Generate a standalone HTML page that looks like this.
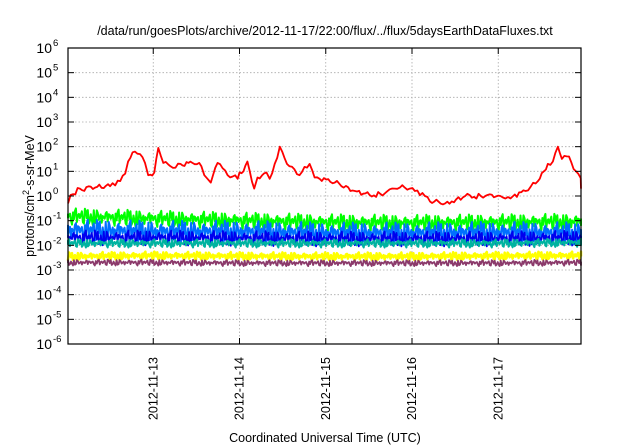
<!DOCTYPE html>
<html><head><meta charset="utf-8"><style>
html,body{margin:0;padding:0;background:#fff;}
svg{display:block;font-family:"Liberation Sans",sans-serif;}
</style></head><body>
<svg id="chart" width="640" height="448" viewBox="0 0 640 448">
<text x="325" y="35" text-anchor="middle" font-size="12.5" fill="#000">/data/run/goesPlots/archive/2012-11-17/22:00/flux/../flux/5daysEarthDataFluxes.txt</text>
<text x="325" y="442" text-anchor="middle" font-size="12.5" fill="#000">Coordinated Universal Time (UTC)</text>
<text transform="translate(34,196) rotate(-90)" text-anchor="middle" font-size="12.5" fill="#000">protons/cm<tspan dy="-5" font-size="9">2</tspan><tspan dy="5">-s-sr-MeV</tspan></text>
<g id="grid"></g>
<g id="series"></g>
<g id="axes"></g>
</svg>
<script>
const dayLabels = ["2012-11-13","2012-11-14","2012-11-15","2012-11-16","2012-11-17"];
const dayHours = [24,48,72,96,120];
const yExponents = [-6,-5,-4,-3,-2,-1,0,1,2,3,4,5,6];
const redHours = [0.3,1,3.6,7.8,12,14.8,16.2,17,18.9,20.3,21.7,22.6,24.3,25.4,26.8,28.8,30.2,31.6,33.8,34.9,37.4,38.2,39.1,40,41.9,44.7,47.5,48,49.1,50.2,52.1,53,55.5,56.4,57.8,59.2,61.9,64.7,67.5,68.9,70.3,74.5,80.1,84.2,88.4,91.2,94,96.8,99.6,101,105.2,110.8,116.4,120.6,123.4,127.6,130.4,132.7,133.8,135.2,136.6,137.7,139.7,141.6,143.6];
const redValues = [0.5,1.1,2,2.2,2.5,4,8,25,63,50,22,7,9,89,22,16,14,20,22,22,16,7,5,3.5,22,7,5,9,10,25,2,5.6,9,5,20,100,16,7,20,5.6,5,3.5,1.6,1.1,1.26,2,2.2,1.6,1,0.6,0.5,1,1,1,0.8,1.6,3.2,10,20,25,100,32,40,10,5,2];
const bandHours = [0,24,48,72,96,120,144];
const greenLevels = [0.15,0.12,0.1,0.085,0.08,0.085,0.09];
const lightBlueLevels = [0.04,0.035,0.035,0.03,0.03,0.032,0.03];
const darkBlueLevels = [0.02,0.02,0.019,0.018,0.018,0.018,0.02];
const tealLevels = [0.012,0.012,0.012,0.012,0.012,0.012,0.013];
const yellowLevels = [0.0035,0.0038,0.0036,0.0035,0.0035,0.0037,0.0038];
const purpleLevels = [0.002,0.002,0.0019,0.0019,0.0019,0.0019,0.002];
const jitter = [0.1,-0.15,0.2,-0.05,0.25,-0.2,0.05,0.15,-0.25,0.1,-0.1,0.3,-0.15,0.0,0.2,-0.3,0.1,-0.05,0.15,-0.2,0.25,-0.1,0.05,-0.25,0.2,0.0,-0.15,0.3,-0.05,0.1,-0.2,0.15,-0.1,0.05,0.2,-0.3,0.1,-0.15,0.25,-0.05,0.12,-0.22,0.08];

const L=68,R=581,T=48,B=344;
const X0=67, PXH=86.25/24;
function xs(h){return Math.min(R,Math.max(L,X0+h*PXH));}
function ys(v){return T+(6-Math.log10(v))*(B-T)/12;}
const NS="http://www.w3.org/2000/svg";
function mk(tag,attrs,parent){const e=document.createElementNS(NS,tag);for(const k in attrs)e.setAttribute(k,attrs[k]);parent.appendChild(e);return e;}
const grid=document.getElementById('grid'),axes=document.getElementById('axes'),series=document.getElementById('series');

yExponents.forEach(function(p){
  const y=ys(Math.pow(10,p));
  if(p>-6&&p<6){const g=mk('line',{x1:L,x2:R,y1:y,y2:y,stroke:'#aaa','stroke-width':0.8,'stroke-dasharray':'1.5,2'},grid);
  
  }
  const tk=mk('line',{x1:L,x2:L+6,y1:y,y2:y,stroke:'#000'},axes);
  
  
  const tk2=mk('line',{x1:R-6,x2:R,y1:y,y2:y,stroke:'#000'},axes);
  
  
  const t=mk('text',{x:52,y:y+5,'text-anchor':'end','font-size':14},axes);
  
  
  t.textContent='10';
  const s=mk('tspan',{x:53,y:y-2,'font-size':9.5,'text-anchor':'start'},t);
  s.textContent=String(p);
});
dayHours.forEach(function(h,i){
  const x=xs(h);
  const g=mk('line',{x1:x,x2:x,y1:T,y2:B,stroke:'#aaa','stroke-width':0.8,'stroke-dasharray':'1.5,2'},grid);
  
  
  const tk=mk('line',{x1:x,x2:x,y1:B,y2:B-6,stroke:'#000'},axes);
  
  
  const tk2=mk('line',{x1:x,x2:x,y1:T,y2:T+6,stroke:'#000'},axes);
  
  
  const t=mk('text',{transform:'translate('+(x+4)+',357) rotate(-90)','text-anchor':'end','font-size':12.5},axes);
  
  
  t.textContent=dayLabels[i];
});
const frame=mk('rect',{x:L,y:T,width:R-L,height:B-T,fill:'none',stroke:'#000','stroke-width':1.2},axes);



function levelAt(levels,h){
  for(let i=0;i<bandHours.length-1;i++){if(h<=bandHours[i+1]){const f=(h-bandHours[i])/(bandHours[i+1]-bandHours[i]);return Math.pow(10,Math.log10(levels[i])*(1-f)+Math.log10(levels[i+1])*f);}}
  return levels[levels.length-1];
}
function band(levels,color,amp,width,offset,name){
  let d='';const n=520;
  for(let k=0;k<=n;k++){const h=k*143.6/n;const j=jitter[(k*3+offset)%jitter.length]*amp;
    const v=levelAt(levels,h)*Math.pow(10,j);d+=(k?'L':'M')+xs(h).toFixed(1)+','+ys(v).toFixed(1);}
  const p=mk('path',{d:d,fill:'none',stroke:color,'stroke-width':width,'stroke-linejoin':'round'},series);
  
  
}
band(greenLevels,'#00ff00',1.1,2,0,'series-green');
band(lightBlueLevels,'#0070ff',1.5,2,7,'series-light-blue');
band(darkBlueLevels,'#0000ee',1.0,1.8,13,'series-dark-blue');
band(tealLevels,'#00b3a0',0.55,2,21,'series-teal');
band(yellowLevels,'#ffff00',0.55,2.5,5,'series-yellow');
band(purpleLevels,'#8b3a6b',0.4,1.8,17,'series-purple');
(function(){
  let d='';let k=0;
  for(let i=0;i<redHours.length-1;i++){
    const steps=Math.max(1,Math.round((redHours[i+1]-redHours[i])*1.6));
    for(let s=0;s<steps;s++){
      const f=s/steps;
      const h=redHours[i]+(redHours[i+1]-redHours[i])*f;
      const lv=Math.log10(redValues[i])*(1-f)+Math.log10(redValues[i+1])*f;
      const v=Math.pow(10,lv+jitter[(k*5)%jitter.length]*(s?0.35:0));
      d+=(k?'L':'M')+xs(h).toFixed(1)+','+ys(v).toFixed(1);k++;
    }
  }
  d+='L'+xs(redHours[redHours.length-1]).toFixed(1)+','+ys(redValues[redValues.length-1]).toFixed(1);
  const p=mk('path',{d:d,fill:'none',stroke:'#ff0000','stroke-width':1.8,'stroke-linejoin':'round'},series);
  
  
})();
</script>
</body></html>
